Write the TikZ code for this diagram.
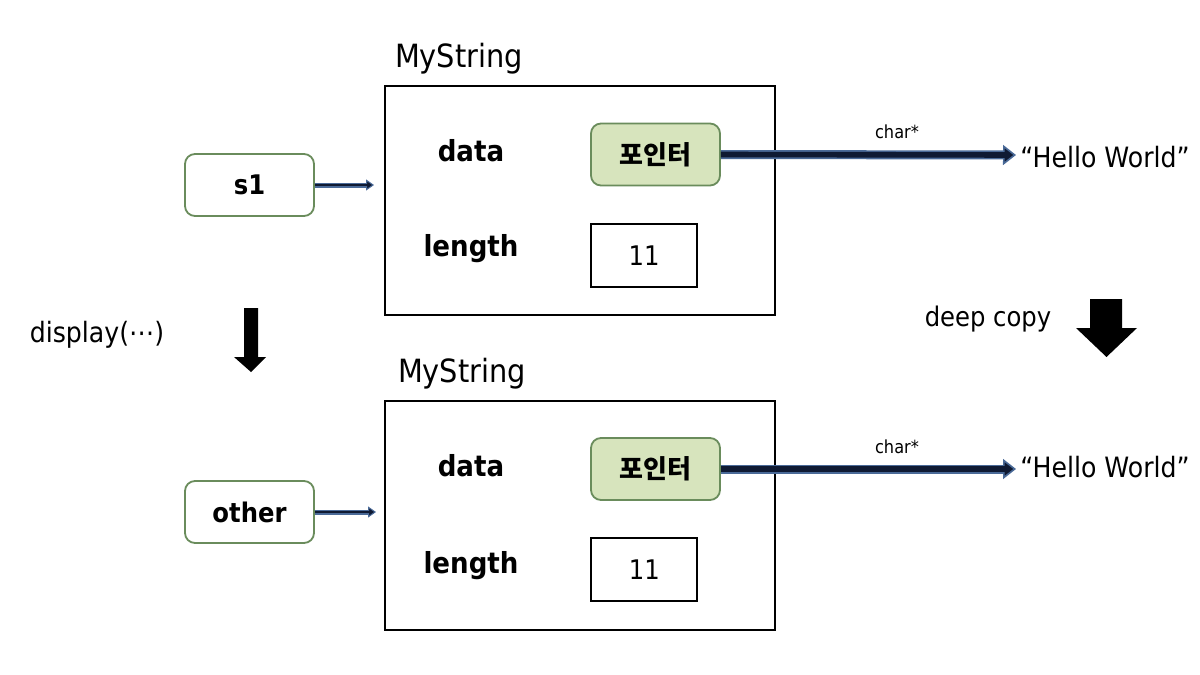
\documentclass[tikz,border=0pt]{standalone}
\usepackage{fontspec}
\setmainfont{DejaVu Sans}[FakeStretch=0.9]
\newfontfamily\krfont{Noto Sans CJK KR}
\usetikzlibrary{arrows.meta,calc}
\definecolor{gfill}{HTML}{D7E4BD}
\definecolor{gline}{HTML}{6A8C5C}
\definecolor{aline}{HTML}{4A6A98}
\definecolor{navy}{HTML}{0F1A33}
\tikzset{
  fs/.style={font=\fontsize{#1}{#1}\selectfont},
  big/.style={draw=black,line width=2pt,minimum width=390pt,minimum height=229pt,inner sep=0pt},
  lbl/.style={font=\fontsize{29}{32}\selectfont\bfseries},
  varbox/.style={draw=gline,rounded corners=10pt,line width=1.8pt,fill=white,minimum width=129pt,minimum height=62pt,font=\fontsize{27}{30}\selectfont\bfseries},
  ptrbox/.style={draw=gline,fill=gfill,rounded corners=10pt,line width=1.8pt,minimum width=129pt,minimum height=62pt,font=\krfont\fontsize{26}{30}\selectfont\bfseries},
  valbox/.style={draw=black,line width=1.7pt,minimum width=106pt,minimum height=63pt,font=\fontsize{27}{30}\selectfont},
  ptrout/.style={draw=aline,line width=9pt,-{Triangle[length=13pt,width=20pt,line width=1.6pt,fill=navy]},color=aline},
  ptrin/.style={draw=navy,line width=5.6pt,shorten >=11pt},
  refout/.style={draw=aline,line width=5pt,-{Triangle[length=8pt,width=11pt,line width=1pt,fill=navy]},color=aline,shorten >=10pt},
  refin/.style={draw=navy,line width=2.6pt,shorten >=16pt},
}
\begin{document}
\begin{tikzpicture}[x=1pt,y=-1pt]
\useasboundingbox (0,0) rectangle (1200,675);
\fill[white] (0,0) rectangle (1200,675);

% ---------- top ----------
\node[fs=32] (t1) at (459,59) {MyString};
\node[big] (b1) at (580,200.5) {};
\node[lbl] (d1) at (471,151) {data};
\node[lbl] (l1) at (471,249) {length};
\node[ptrbox] (p1) at (655.5,154.5) {포인터};
\node[valbox] (v1) at (644,255.5) {11};
\node[varbox] (s1) at (249.5,185) {s1};
\node[fs=28,inner sep=0pt] (h1) at (1105,157) {“Hello World”};
\node[fs=18] (c1) at (897,132) {char*};
\coordinate (e1) at (1016,155);
\draw[ptrout] (p1.east) -- (e1);
\draw[ptrin] (p1.east) -- (e1);
\draw[refout] (s1.east) -- (s1.east -| b1.west);
\draw[refin] (s1.east) -- (s1.east -| b1.west);

% ---------- middle ----------
\node[fs=28] (disp) at (97,335) {display(⋯)};
\fill[black] (244,308) -- (258,308) -- (258,357) -- (266,357) -- (251,372) -- (234,357) -- (244,357) -- cycle;
\node[fs=27] (dc) at (988,319) {deep copy};
\fill[black] (1090,299) -- (1122,299) -- (1122,328) -- (1137,328) -- (1106.5,357) -- (1076,328) -- (1090,328) -- cycle;

% ---------- bottom ----------
\node[fs=32] (t2) at (462,374) {MyString};
\node[big] (b2) at (580,515.5) {};
\node[lbl] (d2) at (471,466) {data};
\node[lbl] (l2) at (471,566) {length};
\node[ptrbox] (p2) at (655.5,469) {포인터};
\node[valbox] (v2) at (644.3,569.7) {11};
\node[varbox] (s2) at (249.5,512) {other};
\node[fs=28,inner sep=0pt] (h2) at (1105,467) {“Hello World”};
\node[fs=18] (c2) at (897,447) {char*};
\coordinate (e2) at (1016,469);
\draw[ptrout] (p2.east) -- (e2);
\draw[ptrin] (p2.east) -- (e2);
\draw[refout] (s2.east) -- ($(s2.east -| b2.west)+(2,0)$);
\draw[refin] (s2.east) -- ($(s2.east -| b2.west)+(2,0)$);
\end{tikzpicture}
\end{document}
